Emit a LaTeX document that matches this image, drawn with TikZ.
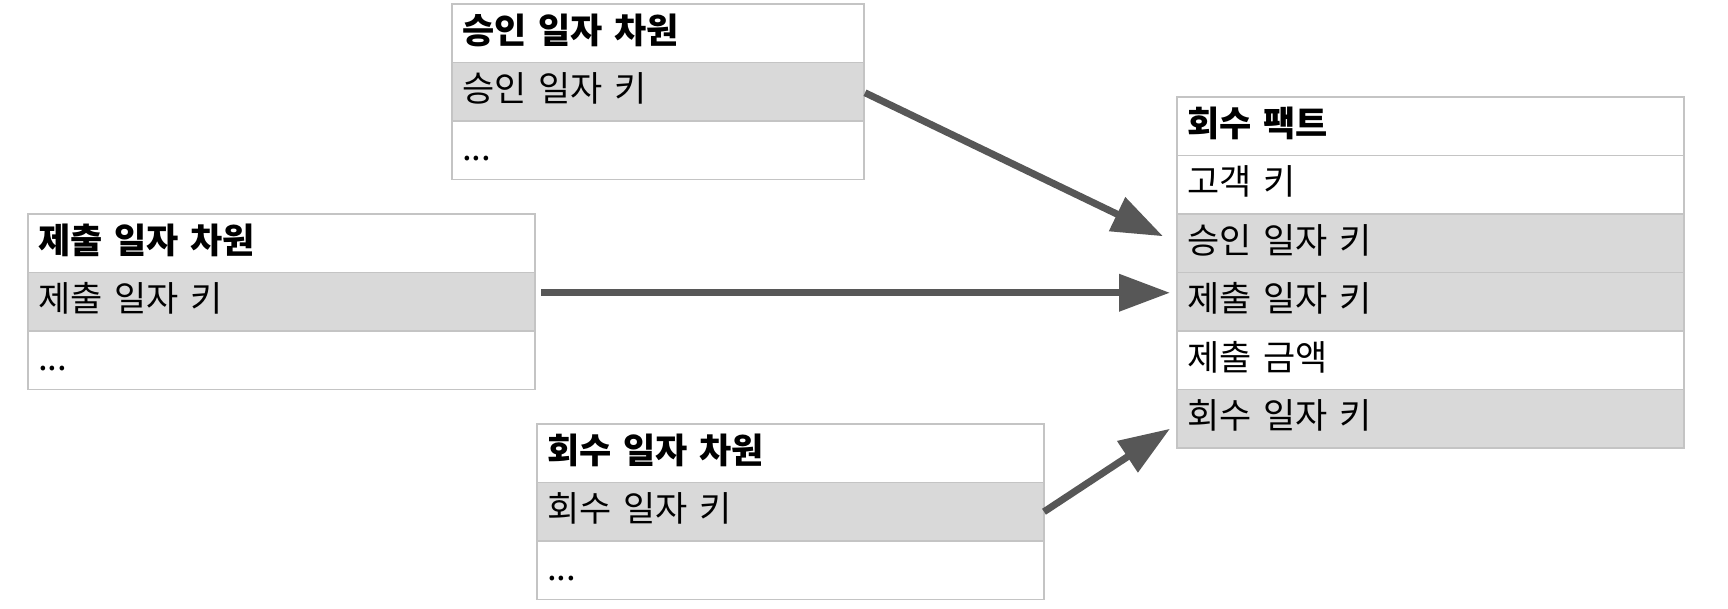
\documentclass[tikz,border=0pt]{standalone}
\usepackage{fontspec}
\setmainfont{Noto Sans CJK KR}
\usetikzlibrary{arrows.meta,calc}
\definecolor{linegray}{HTML}{C4C4C4}
\definecolor{keygray}{HTML}{D9D9D9}
\definecolor{arrowgray}{HTML}{575757}
\tikzset{
  row/.style={draw=linegray, line width=1.5pt, anchor=north west, outer sep=0pt,
    minimum height=58.5pt, inner xsep=10pt, inner ysep=0pt,
    text height=27pt, text depth=7pt, align=left, text width=487pt,
    font=\fontsize{35pt}{42pt}\selectfont},
  narrow/.style={text width=392pt},
  head/.style={font=\fontsize{35pt}{42pt}\selectfont\bfseries},
  keyrow/.style={fill=keygray},
  link/.style={draw=arrowgray, line width=7pt,
    -{Triangle[length=51pt,width=36pt]}}
}
\begin{document}
\begin{tikzpicture}[x=1pt,y=-1pt]
\fill[white] (0,0) rectangle (1728,608);
\useasboundingbox (0,0) rectangle (1728,608);

% approval date dimension
\node[row,narrow,head] (a1) at (452,4) {승인 일자 차원};
\node[row,narrow,keyrow] (a2) at (a1.south west) {승인 일자 키};
\node[row,narrow] (a3) at (a2.south west) {...};

% submission date dimension
\node[row,head] (s1) at (28,214) {제출 일자 차원};
\node[row,keyrow] (s2) at (s1.south west) {제출 일자 키};
\node[row] (s3) at (s2.south west) {...};

% collection date dimension
\node[row,head] (r1) at (537,424) {회수 일자 차원};
\node[row,keyrow] (r2) at (r1.south west) {회수 일자 키};
\node[row] (r3) at (r2.south west) {...};

% fact
\node[row,head] (f1) at (1177,97) {회수 팩트};
\node[row] (f2) at (f1.south west) {고객 키};
\node[row,keyrow] (f3) at (f2.south west) {승인 일자 키};
\node[row,keyrow] (f4) at (f3.south west) {제출 일자 키};
\node[row] (f5) at (f4.south west) {제출 금액};
\node[row,keyrow] (f6) at (f5.south west) {회수 일자 키};

\coordinate (t1) at ($(f3.west)+(-14,-7)$);
\coordinate (t2) at ($(f4.west)+(-7,-9)$);
\coordinate (t3) at ($(f6.west)+(-7,10)$);

\draw[link] ($(a2.east)+(1,1)$) -- (t1);
\draw[link] ($(s2.east)+(6,-9)$) -- (t2);
\draw[link] (r2.east) -- (t3);
\end{tikzpicture}
\end{document}
